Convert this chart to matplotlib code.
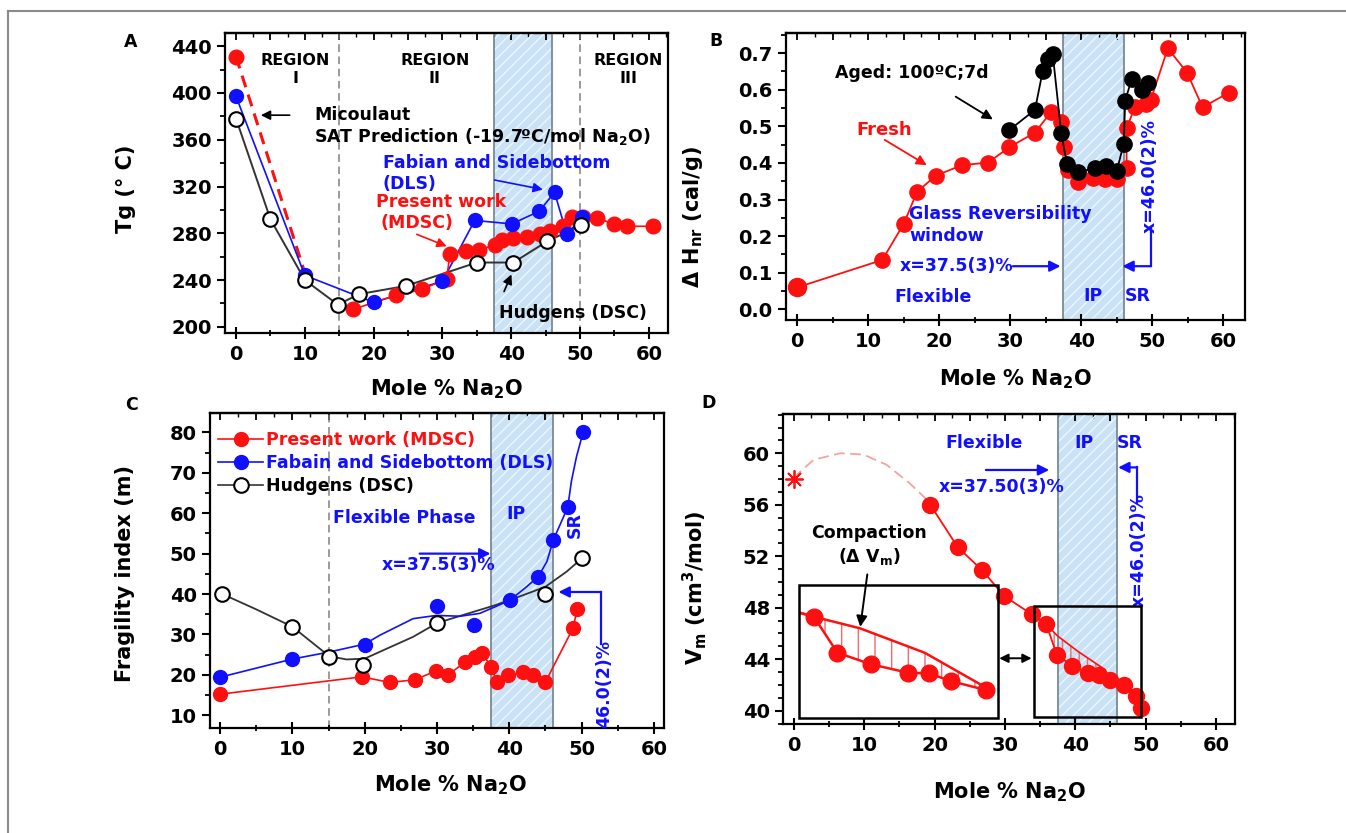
import numpy as np
import matplotlib
matplotlib.use("Agg")
import matplotlib.pyplot as plt
from matplotlib.lines import Line2D
from matplotlib.ticker import MultipleLocator, FormatStrFormatter, NullFormatter

plt.rcParams['font.family'] = 'DejaVu Sans'
plt.rcParams['font.weight'] = 'bold'
plt.rcParams['axes.labelweight'] = 'bold'
plt.rcParams['mathtext.default'] = 'bf'
plt.rcParams['hatch.linewidth'] = 1.0

RED = '#ff1010'
BLUE = '#1010ff'
BAND = '#c9e2f6'
IP_LO, IP_HI = 37.5, 46.0

# ---- Panel A: Tg ----
a_red_x = [0, 17.0, 23.3, 27.0, 30.6, 31.1, 33.5, 35.3, 37.7, 38.6, 40.3, 42.3, 44.2, 45.7,
           47.6, 48.8, 50.5, 52.5, 54.9, 56.8, 60.6]
a_red_y = [431, 215, 227, 232, 241, 262, 265, 266, 270, 274, 276, 277, 279, 282,
           286, 294, 294, 293, 288, 286, 286]
a_blue_x = [0, 10, 20, 30, 34.7, 40.1, 44.1, 46.3, 48.1, 50.3]
a_blue_y = [397, 244, 221, 239, 291, 288, 299, 315, 279, 294]
a_hud_x = [0, 5, 10, 14.8, 17.9, 24.7, 35.0, 40.3, 45.2, 50.2]
a_hud_y = [378, 292, 240, 219, 228, 235, 255, 255, 273, 287]
a_sat_x = [0, 10]
a_sat_y = [431, 246]

# ---- Panel B: non-reversing enthalpy ----
b_fresh_x = [0, 12.0, 15.0, 16.9, 19.5, 23.2, 26.9, 29.9, 33.5, 35.8, 37.2, 37.6, 38.2, 39.6,
             41.7, 43.3, 45.0, 46.4, 46.4, 47.6, 49.2, 49.8, 52.2, 54.9, 57.1, 60.8]
b_fresh_y = [0.06, 0.135, 0.233, 0.321, 0.365, 0.394, 0.401, 0.443, 0.483, 0.540, 0.513, 0.444,
             0.381, 0.349, 0.358, 0.355, 0.355, 0.385, 0.495, 0.554, 0.562, 0.572, 0.713, 0.647,
             0.552, 0.592]
b_aged_x = [29.9, 33.5, 34.6, 35.3, 36.0, 37.2, 38.0, 39.6, 41.9, 43.5, 45.0, 46.0, 46.2, 47.1,
            48.5, 49.4]
b_aged_y = [0.490, 0.545, 0.652, 0.683, 0.697, 0.481, 0.397, 0.376, 0.385, 0.393, 0.378, 0.452,
            0.570, 0.628, 0.600, 0.618]

# ---- Panel C: fragility ----
c_red_x = [0, 19.6, 23.5, 27.0, 29.9, 31.5, 33.9, 35.2, 36.2, 37.5, 38.3, 39.8, 41.9, 43.3,
           45.0, 48.8, 49.4]
c_red_y = [15.2, 19.5, 18.1, 18.8, 21.0, 19.9, 23.2, 24.4, 25.4, 22.0, 18.2, 19.9, 20.7, 19.9,
           18.2, 31.5, 36.2]
c_blue_x = [0, 10, 20.1, 30.0, 35.1, 40.1, 44.0, 46.1, 48.1, 50.2]
c_blue_y = [19.4, 23.9, 27.4, 37.0, 32.3, 38.5, 44.3, 53.4, 61.6, 80.0]
c_blue_fit_x = [0, 10, 15, 20, 22.1, 26.7, 29.9, 33.2, 35.9, 38.0, 40.1, 42.4, 44.0, 45.2,
                46.1, 47.5, 48.1, 48.6, 49.3, 50.2]
c_blue_fit_y = [19.4, 23.9, 25.6, 27.6, 29.8, 33.9, 34.7, 34.5, 35.2, 36.8, 38.5, 41.8, 44.3,
                48.0, 53.4, 59.1, 61.6, 68.0, 74.0, 80.0]
c_hud_x = [0.3, 10.0, 15.1, 19.7, 30.0, 45.0, 50.1]
c_hud_y = [40.0, 31.9, 24.4, 22.5, 32.8, 40.1, 48.9]
c_hud_fit_x = [0.3, 5, 10, 13, 15.1, 17.5, 20, 22.1, 26.7, 30.0, 33.6, 38.0, 41.9, 45.0, 47.9, 50.1]
c_hud_fit_y = [40.0, 36.2, 31.9, 27.6, 24.6, 23.8, 24.0, 25.7, 29.4, 32.8, 34.8, 37.2, 39.7,
               41.8, 45.5, 48.9]

# ---- Panel D: molar volume ----
d_x = [19.4, 23.3, 26.8, 29.9, 33.8, 35.9, 37.4, 39.6, 41.8, 43.4, 45.0, 46.9, 48.6, 49.4]
d_y = [56.0, 52.7, 50.9, 48.9, 47.5, 46.7, 44.3, 43.5, 42.9, 42.8, 42.4, 42.0, 41.1, 40.2]
d_star_x, d_star_y = [0], [58.0]
d_arc_x = [0, 0.65, 2.85, 6.6, 9.9, 13.2, 16.4, 18.9, 19.4]
d_arc_y = [58.0, 58.45, 59.5, 60.0, 59.9, 59.1, 57.7, 56.4, 56.0]
# magnified view drawn in the left box
d_zoom_x = [2.85, 6.2, 11.0, 16.2, 19.2, 22.3, 27.3]
d_zoom_y = [47.3, 44.5, 43.6, 42.95, 42.9, 42.3, 41.6]
d_zoom_up_x = [0.9, 2.85, 9.4, 18.6, 27.3]
d_zoom_up_y = [47.6, 47.3, 46.4, 44.5, 41.8]
d_up_x = [35.9, 37.5, 40.4, 44.2]
d_up_y = [46.7, 45.8, 44.6, 43.2]

fig = plt.figure(figsize=(13.46, 8.33), dpi=100)

# light frame of the original figure
fig.add_artist(Line2D([7.5 / 1346, 1.0], [1 - 10.5 / 833] * 2, color='#8a8a8a', lw=1.5))
fig.add_artist(Line2D([7.5 / 1346] * 2, [0.0, 1 - 10.5 / 833], color='#8a8a8a', lw=1.5))


def style(ax, xlim, ylim, ymaj, ymin):
    ax.set_xlim(*xlim)
    ax.set_ylim(*ylim)
    ax.xaxis.set_major_locator(MultipleLocator(10))
    ax.xaxis.set_minor_locator(MultipleLocator(5))
    ax.yaxis.set_major_locator(MultipleLocator(ymaj))
    ax.yaxis.set_minor_locator(MultipleLocator(ymin))
    for s in ax.spines.values():
        s.set_linewidth(1.6)
    ax.tick_params(axis='x', which='major', direction='inout', length=9, width=1.5,
                   labelsize=14, pad=4)
    ax.tick_params(axis='x', which='minor', direction='inout', length=5, width=1.3)
    ax.tick_params(axis='y', which='major', direction='out', length=6, width=1.5, labelsize=14)
    ax.tick_params(axis='y', which='minor', direction='out', length=3.5, width=1.3)
    ax.set_xlabel(r'Mole % Na$_2$O', fontsize=15)
    top = ax.secondary_xaxis('top')
    top.xaxis.set_major_locator(MultipleLocator(5))
    top.xaxis.set_minor_locator(MultipleLocator(2.5))
    top.xaxis.set_major_formatter(NullFormatter())
    top.tick_params(which='major', direction='in', length=5, width=1.3)
    top.tick_params(which='minor', direction='in', length=3, width=1.0)
    top.spines['top'].set_linewidth(1.6)


def band(ax):
    ax.axvspan(IP_LO, IP_HI, facecolor=BAND, edgecolor='none', zorder=0)
    ax.axvspan(IP_LO, IP_HI, facecolor='none', edgecolor='#eef6fd', hatch='///', lw=0, zorder=0.5)
    for xv in (IP_LO, IP_HI):
        ax.axvline(xv, color='#7a8a96', lw=1.3, zorder=0.6)


def lshape(ax, x0, y0, y1, x1, color=BLUE):
    ax.plot([x0, x0], [y0, y1], color=color, lw=1.6)
    ax.annotate('', xy=(x1, y1), xytext=(x0, y1),
                arrowprops=dict(arrowstyle='-|>', color=color, lw=1.6, mutation_scale=16,
                                shrinkA=0, shrinkB=0))


def harrow(ax, x0, x1, y, color=BLUE):
    ax.annotate('', xy=(x1, y), xytext=(x0, y),
                arrowprops=dict(arrowstyle='-|>', color=color, lw=1.6, mutation_scale=16,
                                shrinkA=0, shrinkB=0))


# ================= A =================
axA = fig.add_axes([0.1672, 0.6006, 0.3291, 0.3594])
style(axA, (-1.6, 62.8), (195, 451), 40, 20)
band(axA)
for xv in (15, 50):
    axA.axvline(xv, color='#808080', lw=1.1, ls=(0, (5, 3)), zorder=0.6)
axA.plot(a_sat_x, a_sat_y, color=RED, lw=2.2, ls=(0, (4, 2.5)), zorder=2)
axA.plot(a_hud_x, a_hud_y, color='#333333', lw=1.4, zorder=2)
axA.plot(a_blue_x, a_blue_y, color=BLUE, lw=1.2, zorder=2)
axA.plot(a_red_x[1:], a_red_y[1:], color=RED, lw=1.2, zorder=2)
axA.plot(a_red_x, a_red_y, 'o', color=RED, ms=10.5, mec=RED, zorder=3)
axA.plot(a_blue_x, a_blue_y, 'o', color=BLUE, ms=10, mec=BLUE, zorder=4)
axA.plot(a_hud_x, a_hud_y, 'o', mfc='white', mec='black', mew=1.5, ms=10.5, zorder=5)
axA.set_ylabel('Tg (° C)', fontsize=15)
axA.yaxis.set_label_coords(-0.2, 0.48)
axA.xaxis.set_label_coords(0.5, -0.15)
for xt, lab in ((8.6, 'REGION\nI'), (28.9, 'REGION\nII'), (57.0, 'REGION\nIII')):
    axA.text(xt, 420, lab, ha='center', va='center', fontsize=11.5, linespacing=1.25)
axA.annotate('', xy=(3.2, 381), xytext=(8.2, 381),
             arrowprops=dict(arrowstyle='-|>', color='black', lw=1.2, mutation_scale=14))
axA.text(11.4, 381, 'Micoulaut', fontsize=12.5, va='center')
axA.text(11.4, 363, r'SAT Prediction (-19.7ºC/mol Na$_2$O)', fontsize=12.5, va='center')
axA.text(21.3, 340, 'Fabian and Sidebottom', color=BLUE, fontsize=12.5, va='center')
axA.text(21.3, 322, '(DLS)', color=BLUE, fontsize=12.5, va='center')
axA.annotate('', xy=(45.0, 317), xytext=(37.2, 326),
             arrowprops=dict(arrowstyle='-|>', color=BLUE, lw=1.2, mutation_scale=14))
axA.text(20.4, 307, 'Present work', color=RED, fontsize=12.5, va='center')
axA.text(21.0, 289, '(MDSC)', color=RED, fontsize=12.5, va='center')
axA.annotate('', xy=(31.0, 268), xytext=(25.9, 280),
             arrowprops=dict(arrowstyle='-|>', color=RED, lw=1.2, mutation_scale=14))
axA.annotate('', xy=(40.2, 247), xytext=(38.8, 228),
             arrowprops=dict(arrowstyle='-|>', color='black', lw=1.2, mutation_scale=14))
axA.text(38.3, 212, 'Hudgens (DSC)', fontsize=12.5, va='center')

# ================= B =================
axB = fig.add_axes([0.5837, 0.6158, 0.3409, 0.3442])
style(axB, (-1.6, 63.0), (-0.029, 0.754), 0.1, 0.05)
axB.yaxis.set_major_formatter(FormatStrFormatter('%.1f'))
band(axB)
axB.plot(b_fresh_x, b_fresh_y, '-', color=RED, lw=1.3, zorder=2)
axB.plot(b_fresh_x, b_fresh_y, 'o', color=RED, ms=11, zorder=3)
axB.plot(b_fresh_x[:1], b_fresh_y[:1], 'o', color=RED, ms=13, zorder=3)
axB.plot(b_aged_x, b_aged_y, '-', color='black', lw=1.3, zorder=4)
axB.plot(b_aged_x, b_aged_y, 'o', color='black', ms=11, zorder=5)
axB.set_ylabel(r'Δ H$_{nr}$ (cal/g)', fontsize=15)
axB.yaxis.set_label_coords(-0.175, 0.36)
axB.xaxis.set_label_coords(0.5, -0.165)
axB.text(5.3, 0.645, 'Aged: 100ºC;7d', fontsize=12.5, va='center')
axB.annotate('', xy=(27.9, 0.515), xytext=(22.0, 0.585),
             arrowprops=dict(arrowstyle='-|>', color='black', lw=1.3, mutation_scale=15))
axB.text(8.3, 0.49, 'Fresh', color=RED, fontsize=13, va='center')
axB.annotate('', xy=(18.6, 0.39), xytext=(12.0, 0.467),
             arrowprops=dict(arrowstyle='-|>', color=RED, lw=1.3, mutation_scale=15))
axB.text(15.8, 0.231, 'Glass Reversibility\nwindow', color=BLUE, fontsize=12.5,
         va='center', linespacing=1.3)
axB.text(14.5, 0.118, 'x=37.5(3)%', color=BLUE, fontsize=12.5, va='center')
harrow(axB, 30.4, 37.1, 0.118)
axB.text(13.7, 0.034, 'Flexible', color=BLUE, fontsize=12.5, va='center')
axB.text(41.7, 0.036, 'IP', color=BLUE, fontsize=12.5, va='center', ha='center')
axB.text(47.9, 0.036, 'SR', color=BLUE, fontsize=12.5, va='center', ha='center')
axB.text(49.7, 0.365, 'x=46.0(2)%', color=BLUE, fontsize=12.5, va='center', ha='center',
         rotation=90)
lshape(axB, 49.8, 0.225, 0.118, 45.8)

# ================= C =================
axC = fig.add_axes([0.1560, 0.1264, 0.3373, 0.3782])
style(axC, (-1.4, 61.4), (6.9, 84.9), 10, 5)
band(axC)
axC.axvline(15, color='#808080', lw=1.1, ls=(0, (5, 3)), zorder=0.6)
axC.plot(c_hud_fit_x, c_hud_fit_y, color='#333333', lw=1.3, zorder=2)
axC.plot(c_blue_fit_x, c_blue_fit_y, color=BLUE, lw=1.2, zorder=2)
axC.plot(c_red_x, c_red_y, color=RED, lw=1.2, zorder=2)
axC.plot(c_red_x, c_red_y, 'o', color=RED, ms=10, zorder=3)
axC.plot(c_blue_x, c_blue_y, 'o', color=BLUE, ms=10, zorder=4)
axC.plot(c_hud_x, c_hud_y, 'o', mfc='white', mec='black', mew=1.5, ms=10.5, zorder=5)
axC.set_ylabel('Fragility index (m)', fontsize=15)
axC.yaxis.set_label_coords(-0.165, 0.49)
axC.xaxis.set_label_coords(0.53, -0.145)
handles = [Line2D([], [], color=RED, marker='o', ms=10, lw=1.2),
           Line2D([], [], color=BLUE, marker='o', ms=10, lw=1.2),
           Line2D([], [], color='#333333', marker='o', mfc='white', mec='black', mew=1.5,
                  ms=10.5, lw=1.2)]
leg = axC.legend(handles, ['Present work (MDSC)', 'Fabain and Sidebottom (DLS)', 'Hudgens (DSC)'],
                 loc='upper left', bbox_to_anchor=(-0.005, 0.975), frameon=False, fontsize=12.5,
                 handlelength=2.6, handletextpad=0.15, labelspacing=0.3, borderpad=0.1)
for t, c in zip(leg.get_texts(), [RED, BLUE, 'black']):
    t.set_color(c)
axC.text(15.6, 58.7, 'Flexible Phase', color=BLUE, fontsize=12.5, va='center')
axC.text(40.9, 59.9, 'IP', color=BLUE, fontsize=12.5, va='center', ha='center')
axC.text(49.0, 57.0, 'SR', color=BLUE, fontsize=12.5, va='center', ha='center', rotation=90)
axC.text(22.3, 47.1, 'x=37.5(3)%', color=BLUE, fontsize=12.5, va='center')
harrow(axC, 27.6, 37.4, 50.0)
axC.text(53.2, 17.8, '46.0(2)%', color=BLUE, fontsize=12.5, va='center', ha='center',
         rotation=90)
lshape(axC, 52.7, 27.7, 40.5, 46.8)

# ================= D =================
axD = fig.add_axes([0.5819, 0.1305, 0.3356, 0.3725])
style(axD, (-1.5, 62.7), (38.94, 63.05), 4, 1)
band(axD)
axD.plot(d_arc_x, d_arc_y, color='#f4a3a3', lw=1.3, ls=(0, (6, 3)), zorder=2)
axD.plot(d_star_x, d_star_y, marker=(8, 2, 0), color=RED, ms=13, mew=1.3, ls='none', zorder=3)
axD.plot(d_x, d_y, color=RED, lw=1.3, zorder=2)
axD.plot(d_x, d_y, 'o', color=RED, ms=11.5, zorder=3)
# compaction zone in the right box
axD.plot(d_up_x, d_up_y, color=RED, lw=1.2, zorder=2)
axD.fill(d_up_x + [43.4, 41.8, 39.6, 37.4], d_up_y + [42.8, 42.9, 43.5, 44.3],
         facecolor='none', edgecolor='#f06a6a', hatch='||', lw=0, zorder=1.5)
axD.add_patch(plt.Rectangle((34.1, 39.5), 49.4 - 34.1, 48.1 - 39.5, fill=False,
                            edgecolor='black', lw=1.8, zorder=4))
# magnified view
axD.plot(d_zoom_up_x, d_zoom_up_y, color=RED, lw=1.8, zorder=2)
axD.plot([0.9] + d_zoom_x, [47.6] + d_zoom_y, color=RED, lw=1.8, zorder=2)
axD.fill(d_zoom_up_x[1:] + d_zoom_x[::-1], d_zoom_up_y[1:] + d_zoom_y[::-1],
         facecolor='none', edgecolor='#f06a6a', hatch='|', lw=0, zorder=1.5)
axD.plot(d_zoom_x, d_zoom_y, 'o', color=RED, ms=12, zorder=3)
axD.add_patch(plt.Rectangle((0.77, 39.4), 28.96 - 0.77, 49.77 - 39.4, fill=False,
                            edgecolor='black', lw=1.8, zorder=4))
axD.annotate('', xy=(34.0, 44.07), xytext=(29.0, 44.07),
             arrowprops=dict(arrowstyle='<|-|>', color='black', lw=1.4, mutation_scale=13,
                             shrinkA=1, shrinkB=1))
axD.text(10.7, 53.8, 'Compaction', fontsize=12.5, ha='center', va='center')
axD.text(10.7, 52.0, r'(Δ V$_m$)', fontsize=12.5, ha='center', va='center')
axD.annotate('', xy=(9.4, 46.3), xytext=(10.5, 50.8),
             arrowprops=dict(arrowstyle='-|>', color='black', lw=1.4, mutation_scale=16))
axD.set_ylabel(r'V$_m$ (cm$^3$/mol)', fontsize=15)
axD.yaxis.set_label_coords(-0.165, 0.44)
axD.xaxis.set_label_coords(0.5, -0.18)
axD.text(27.1, 60.8, 'Flexible', color=BLUE, fontsize=12.5, ha='center', va='center')
axD.text(41.2, 60.8, 'IP', color=BLUE, fontsize=12.5, ha='center', va='center')
axD.text(47.75, 60.8, 'SR', color=BLUE, fontsize=12.5, ha='center', va='center')
harrow(axD, 27.3, 36.3, 58.7)
axD.text(29.5, 57.4, 'x=37.50(3)%', color=BLUE, fontsize=12.5, ha='center', va='center')
axD.text(49.0, 52.5, 'x=46.0(2)%', color=BLUE, fontsize=12.5, ha='center', va='center',
         rotation=90)
lshape(axD, 48.8, 56.1, 58.9, 46.1)

# panel letters
for lab, (px, py) in {'A': (131, 42), 'B': (716, 41), 'C': (131, 405), 'D': (709, 403)}.items():
    fig.text(px / 1346, 1 - py / 833, lab, fontsize=12.5, ha='center', va='center')

fig.savefig('out.png', dpi=100)
